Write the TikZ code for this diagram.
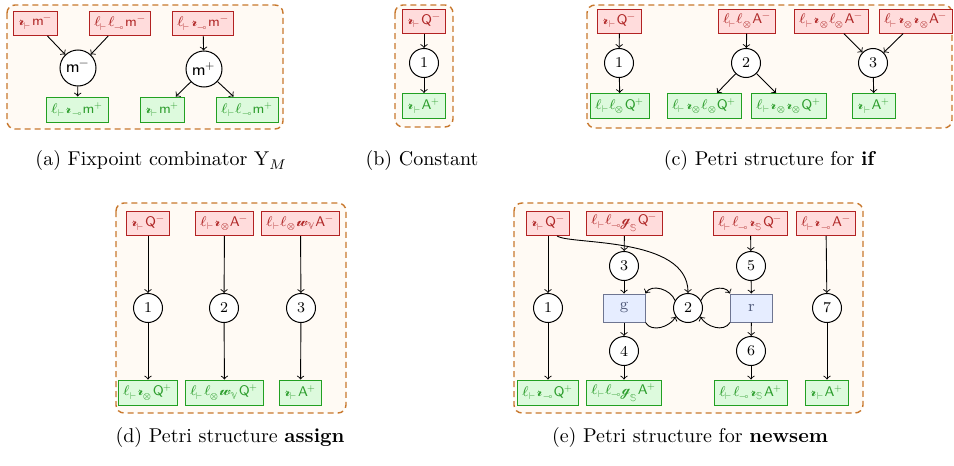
\documentclass[tikz,border=0pt]{standalone}
\usepackage{unicode-math}
\setmathfont{Latin Modern Math}
\IfFontExistsTF{Noto Sans Math}
  {\setmathfont{Noto Sans Math}[range={scr}]}{}
\definecolor{panelfill}{HTML}{FFFAF4}
\definecolor{paneldraw}{HTML}{C8782D}
\definecolor{redfill}{HTML}{FFDCDC}
\definecolor{reddraw}{HTML}{B22222}
\definecolor{redtext}{HTML}{B02828}
\definecolor{greenfill}{HTML}{DDFADD}
\definecolor{greendraw}{HTML}{22A022}
\definecolor{greentext}{HTML}{2E9E2E}
\definecolor{bluefill}{HTML}{E6EDFF}
\definecolor{bluedraw}{HTML}{6E7591}
\definecolor{bluetext}{HTML}{505A7A}
\newcommand{\scrl}[1]{\mbox{\fontsize{8.4}{9}\selectfont$\mathscr{#1}$}}
\newcommand{\rsc}{\scrl{r}}
\newcommand{\Lv}{\ell_{\vdash}}
\newcommand{\Rv}{\rsc_{\vdash}}
\tikzset{
  negbox/.style={draw=reddraw, fill=redfill, text=redtext, line width=0.5pt, minimum height=12pt, inner xsep=2.5pt, inner ysep=0pt, font=\fontsize{7}{8}\selectfont},
  posbox/.style={draw=greendraw, fill=greenfill, text=greentext, line width=0.5pt, minimum height=12.5pt, inner xsep=2.5pt, inner ysep=0pt, font=\fontsize{7}{8}\selectfont},
  place/.style={circle, draw, fill=white, line width=0.5pt, minimum size=14.5pt, inner sep=0.5pt, font=\fontsize{7.5}{8}\selectfont},
  mplace/.style={place, minimum size=18pt, font=\fontsize{8.5}{9}\selectfont},
  trans/.style={draw=bluedraw, fill=bluefill, text=bluetext, line width=0.5pt, minimum width=21pt, minimum height=14pt, inner sep=0pt, font=\fontsize{8}{9}\selectfont},
  panel/.style={draw=paneldraw, fill=panelfill, dash pattern=on 3pt off 2pt, rounded corners=4pt, line width=0.7pt},
  edge/.style={->, line width=0.45pt},
  captext/.style={font=\fontsize{10}{12}\selectfont, inner sep=0pt}
}
\begin{document}
\begin{tikzpicture}[x=0.5pt, y=-0.5pt]
\useasboundingbox (0,0) rectangle (954,466);
% panels
\draw[panel] (7,5) rectangle (283,129);
\draw[panel] (395,5) rectangle (453,127);
\draw[panel] (587,5) rectangle (952,128);
\draw[panel] (116,203) rectangle (346,413);
\draw[panel] (514,203) rectangle (863,413);

% (a)
\node[negbox] (a1) at (35.5,23.5) {$\Rv\mathsf{m}^-$};
\node[negbox] (a2) at (120,23.5) {$\Lv\ell_{\multimap}\mathsf{m}^-$};
\node[negbox] (a3) at (203,23.5) {$\Lv\rsc_{\multimap}\mathsf{m}^-$};
\node[mplace] (am) at (78,68) {$\mathsf{m}^-$};
\node[mplace] (ap) at (204,69) {$\mathsf{m}^+$};
\node[posbox] (a4) at (77.5,109.5) {$\Lv\rsc_{\multimap}\mathsf{m}^+$};
\node[posbox] (a5) at (162.5,109.5) {$\Rv\mathsf{m}^+$};
\node[posbox] (a6) at (247.5,109.5) {$\Lv\ell_{\multimap}\mathsf{m}^+$};
\draw[edge] (a1) -- (am);
\draw[edge] (a2) -- (am);
\draw[edge] (am) -- (a4);
\draw[edge] (a3) -- (ap);
\draw[edge] (ap) -- (a5);
\draw[edge] (ap) -- (a6);

% (b)
\node[negbox] (b1) at (424,21) {$\Rv\mathsf{Q}^-$};
\node[place] (b2) at (424,63) {1};
\node[posbox] (b3) at (424,106) {$\Rv\mathsf{A}^+$};
\draw[edge] (b1) -- (b2);
\draw[edge] (b2) -- (b3);

% (c)
\node[negbox] (c1) at (619.5,21) {$\Rv\mathsf{Q}^-$};
\node[negbox] (c2) at (747,21) {$\Lv\ell_{\otimes}\mathsf{A}^-$};
\node[negbox] (c3) at (831.5,21) {$\Lv\rsc_{\otimes}\ell_{\otimes}\mathsf{A}^-$};
\node[negbox] (c4) at (916,21) {$\Lv\rsc_{\otimes}\rsc_{\otimes}\mathsf{A}^-$};
\node[place] (c5) at (619,63) {1};
\node[place] (c6) at (746,63) {2};
\node[place] (c7) at (873,63) {3};
\node[posbox] (c8) at (620,106) {$\Lv\ell_{\otimes}\mathsf{Q}^+$};
\node[posbox] (c9) at (704.5,106) {$\Lv\rsc_{\otimes}\ell_{\otimes}\mathsf{Q}^+$};
\node[posbox] (c10) at (789,106) {$\Lv\rsc_{\otimes}\rsc_{\otimes}\mathsf{Q}^+$};
\node[posbox] (c11) at (874,106) {$\Rv\mathsf{A}^+$};
\draw[edge] (c1) -- (c5);
\draw[edge] (c5) -- (c8);
\draw[edge] (c2) -- (c6);
\draw[edge] (c6) -- (c9);
\draw[edge] (c6) -- (c10);
\draw[edge] (c3) -- (c7);
\draw[edge] (c4) -- (c7);
\draw[edge] (c7) -- (c11);

% (d)
\node[negbox] (d1) at (148,223.5) {$\Rv\mathsf{Q}^-$};
\node[negbox] (d2) at (224.5,223.5) {$\Lv\rsc_{\otimes}\mathsf{A}^-$};
\node[negbox] (d3) at (300.5,223.5) {$\Lv\ell_{\otimes}\scrl{w}_{\mathbb{V}}\mathsf{A}^-$};
\node[place] (d4) at (148,308) {1};
\node[place] (d5) at (224,308) {2};
\node[place] (d6) at (301,308) {3};
\node[posbox] (d7) at (148,392.5) {$\Lv\rsc_{\otimes}\mathsf{Q}^+$};
\node[posbox] (d8) at (224.5,392.5) {$\Lv\ell_{\otimes}\scrl{w}_{\mathbb{V}}\mathsf{Q}^+$};
\node[posbox] (d9) at (300.5,392.5) {$\Rv\mathsf{A}^+$};
\draw[edge] (d1) -- (d4);
\draw[edge] (d4) -- (d7);
\draw[edge] (d2) -- (d5);
\draw[edge] (d5) -- (d8);
\draw[edge] (d3) -- (d6);
\draw[edge] (d6) -- (d9);

% (e)
\node[negbox] (e1) at (548,223.5) {$\Rv\mathsf{Q}^-$};
\node[negbox] (e2) at (624.5,223.5) {$\Lv\ell_{\multimap}\scrl{g}_{\mathbb{S}}\mathsf{Q}^-$};
\node[negbox] (e3) at (750.5,223.5) {$\Lv\ell_{\multimap}\rsc_{\mathbb{S}}\mathsf{Q}^-$};
\node[negbox] (e4) at (826,223.5) {$\Lv\rsc_{\multimap}\mathsf{A}^-$};
\node[place] (e5) at (624,266) {3};
\node[place] (e6) at (751,266) {5};
\node[place] (e7) at (548,308) {1};
\node[trans] (eg) at (624,308) {g};
\node[place] (e8) at (688,308) {2};
\node[trans] (er) at (751.5,308) {r};
\node[place] (e9) at (827,308) {7};
\node[place] (e10) at (624,351) {4};
\node[place] (e11) at (751,351) {6};
\node[posbox] (e12) at (548,392.5) {$\Lv\rsc_{\multimap}\mathsf{Q}^+$};
\node[posbox] (e13) at (624,392.5) {$\Lv\ell_{\multimap}\scrl{g}_{\mathbb{S}}\mathsf{A}^+$};
\node[posbox] (e14) at (751,392.5) {$\Lv\ell_{\multimap}\rsc_{\mathbb{S}}\mathsf{A}^+$};
\node[posbox] (e15) at (827,392.5) {$\Rv\mathsf{A}^+$};
\draw[edge] (e1) -- (e7);
\draw[edge] (e7) -- (e12);
\draw[edge] (e1.-54) .. controls (570,245) and (688,236) .. (e8.north);
\draw[edge] (e2) -- (e5);
\draw[edge] (e5) -- (eg);
\draw[edge] (eg) -- (e10);
\draw[edge] (e10) -- (e13);
\draw[edge] (e3) -- (e6);
\draw[edge] (e6) -- (er);
\draw[edge] (er) -- (e11);
\draw[edge] (e11) -- (e14);
\draw[edge] (e4) -- (e9);
\draw[edge] (e9) -- (e15);
\draw[edge] (e8.150) to[out=110,in=60] (eg.north east);
\draw[edge] (eg.south east) to[out=-60,in=-120] (e8.215);
\draw[edge] (e8.30) to[out=70,in=120] (er.north west);
\draw[edge] (er.south west) to[out=-120,in=-60] (e8.-35);

% captions
\node[captext] (capa) at (161,160) {(a) Fixpoint combinator $\mathrm{Y}_M$};
\node[captext] (capb) at (422,160) {(b) Constant};
\node[captext] (capc) at (770,160) {(c) Petri structure for \textbf{if}};
\node[captext] (capd) at (230,437) {(d) Petri structure \textbf{assign}};
\node[captext] (cape) at (690,437) {(e) Petri structure for \textbf{newsem}};
\end{tikzpicture}
\end{document}
